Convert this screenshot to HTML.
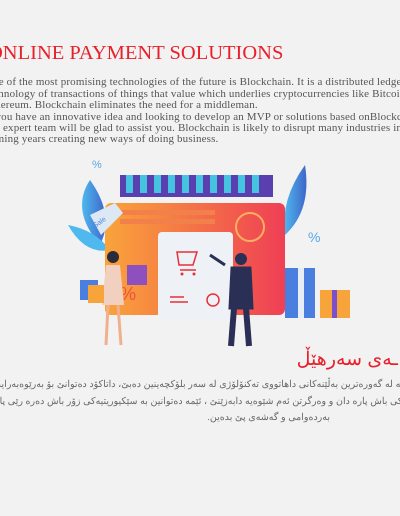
<!DOCTYPE html>
<html><head><meta charset="utf-8">
<style>
body{margin:0;width:400px;height:516px;overflow:hidden;background:#f2f2f2;position:relative;font-family:"Liberation Serif",serif}
.clip{position:absolute;left:0;top:0;width:400px;height:516px;overflow:hidden}
.t{position:absolute;white-space:nowrap}
.en{font-size:11px;color:#555;left:-15px;letter-spacing:0.15px}
.ku{font-family:"Liberation Sans","Noto Sans CJK SC",sans-serif;font-size:9.5px;color:#666;direction:rtl;right:-60px}
</style></head><body>
<div class="clip">
<div class="t" style="left:-12px;top:42px;font-size:20.5px;color:#e8202a;">ONLINE PAYMENT SOLUTIONS</div>
<div>
<div class="t en" style="top:76px">One of the most promising technologies of the future is Blockchain. It is a distributed ledger</div>
<div class="t en" style="top:88px">technology of transactions of things that value which underlies cryptocurrencies like Bitcoin</div>
<div class="t en" style="top:99px">Ethereum. Blockchain eliminates the need for a middleman.</div>
<div class="t en" style="top:111px">If you have an innovative idea and looking to develop an MVP or solutions based onBlockchain,</div>
<div class="t en" style="top:122px">our expert team will be glad to assist you. Blockchain is likely to disrupt many industries in</div>
<div class="t en" style="top:133px">coming years creating new ways of doing business.</div>
</div>
<svg width="400" height="516" style="position:absolute;left:0;top:0">
<defs>
<linearGradient id="card" x1="0" x2="1"><stop offset="0" stop-color="#f9a43a"/><stop offset="1" stop-color="#ef3f55"/></linearGradient>
<linearGradient id="leaf" x1="0" x2="1"><stop offset="0" stop-color="#4fb8ee"/><stop offset="1" stop-color="#3f66c9"/></linearGradient>
</defs>
<path d="M90 180 Q70 210 100 245 Q115 215 90 180Z" fill="url(#leaf)"/>
<path d="M68 225 Q85 255 110 250 Q95 230 68 225Z" fill="#4fb8ee"/>
<path d="M305 165 Q280 200 285 235 Q312 210 305 165Z" fill="url(#leaf)"/>
<rect x="120" y="175" width="153" height="22" fill="#5a3fb0"/>
<g fill="#45c3e0">
<rect x="126" y="175" width="7" height="18"/><rect x="140" y="175" width="7" height="18"/><rect x="154" y="175" width="7" height="18"/><rect x="168" y="175" width="7" height="18"/><rect x="182" y="175" width="7" height="18"/><rect x="196" y="175" width="7" height="18"/><rect x="210" y="175" width="7" height="18"/><rect x="224" y="175" width="7" height="18"/><rect x="238" y="175" width="7" height="18"/><rect x="252" y="175" width="7" height="18"/></g>
<rect x="105" y="203" width="180" height="112" rx="6" fill="url(#card)"/>
<rect x="120" y="210" width="95" height="5" fill="#f2804a"/><rect x="120" y="219" width="95" height="5" fill="#f2804a"/>
<circle cx="250" cy="227" r="14" fill="none" stroke="#f9b060" stroke-width="2"/>
<path d="M90 215 l25 -12 l8 10 l-22 22 z" fill="#dde8f5"/>
<text x="95" y="228" font-size="7" fill="#4f8ae0" transform="rotate(-35 95 228)" font-family="Liberation Sans,sans-serif">Sale</text>
<text x="92" y="168" font-size="11" fill="#5aa7e8" font-family="Liberation Sans,sans-serif">%</text>
<text x="308" y="242" font-size="14" fill="#5aa7e8" font-family="Liberation Sans,sans-serif">%</text>
<text x="120" y="300" font-size="18" fill="#ef5040" font-family="Liberation Sans,sans-serif">%</text>
<rect x="158" y="232" width="75" height="88" rx="4" fill="#eef2f7"/>
<path d="M177 252 h20 l-4 13 h-14 z M180 270 h16" fill="none" stroke="#e8303a" stroke-width="1.5"/>
<circle cx="182" cy="274" r="1.5" fill="#e8303a"/><circle cx="194" cy="274" r="1.5" fill="#e8303a"/>
<circle cx="213" cy="300" r="6" fill="none" stroke="#e8303a" stroke-width="1.5"/>
<path d="M170 297 h14 M170 302 h18" stroke="#e8303a" stroke-width="1.5"/>
<rect x="285" y="268" width="30" height="50" fill="#4a7fe0"/><rect x="298" y="268" width="6" height="50" fill="#e8eef6"/>
<rect x="320" y="290" width="30" height="28" fill="#f7a43a"/><rect x="332" y="290" width="5" height="28" fill="#7b4fd0"/>
<circle cx="113" cy="257" r="6" fill="#2b2b3a"/><path d="M106 265 h14 l4 40 h-22z" fill="#f2d0c0"/>
<path d="M108 305 l-2 40 M118 305 l3 40" stroke="#f0b090" stroke-width="3"/>
<rect x="127" y="265" width="20" height="20" fill="#8e4fbf"/><rect x="80" y="280" width="18" height="20" fill="#4a7fe0"/><rect x="88" y="285" width="16" height="18" fill="#f7a43a"/>
<circle cx="241" cy="259" r="6" fill="#2a2f55"/><path d="M232 268 h18 l2 40 h-22z M225 265 l-15 -10" fill="#2a2f55" stroke="#2a2f55" stroke-width="3"/>
<path d="M234 308 l-3 38 M246 308 l3 38" stroke="#2a2f55" stroke-width="6"/>
</svg>
<div class="t" style="right:2px;top:348px;font-size:19px;color:#e8202a;font-family:'Liberation Sans','Noto Sans CJK SC',sans-serif;direction:rtl">ـەی سەرهێڵ</div>
<div>
<div class="t ku" style="top:379px">بلۆکچەین یەکێکە لە گەورەترین بەڵێنەکانی داهاتووی تەکنۆلۆژی لە سەر بلۆکچەینین دەبێ، داتاکۆد دەتوانێ بۆ بەرێوەبەرایەتی بانکی و ئۆنلاین</div>
<div class="t ku" style="top:396px">ئێمە بە شێوەیەکی باش پارە دان و وەرگرتن ئەم شێوەیە دابەزێنێ ، ئێمە دەتوانین بە سێکیوریتیەکی زۆر باش دەرە رێی پارەدانی ئۆنلاین بکەین</div>
<div class="t ku" style="top:412px;right:70px">بەردەوامی و گەشەی پێ بدەین.</div>
</div>
</div>
</body></html>
